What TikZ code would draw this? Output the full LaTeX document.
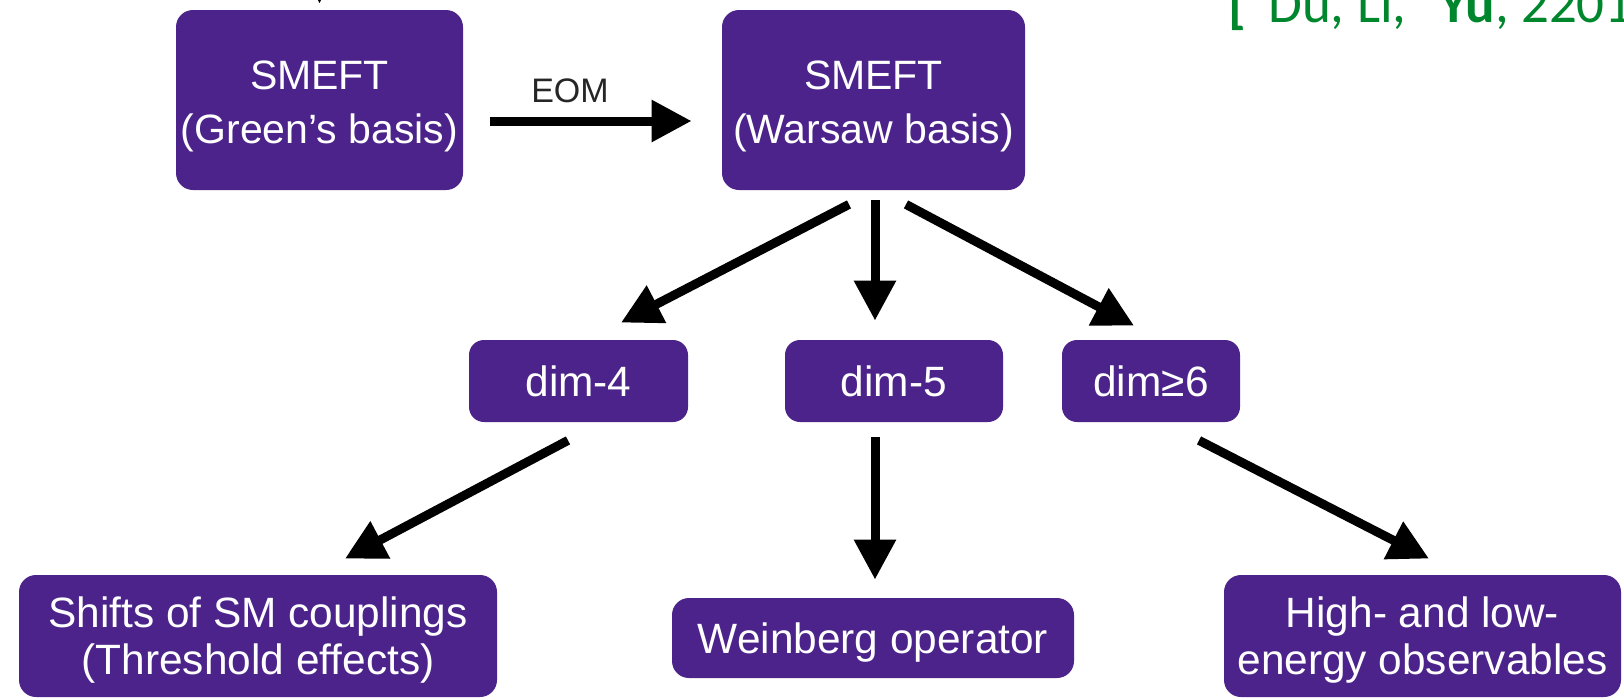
\documentclass[tikz,border=0pt]{standalone}
\usepackage{fontspec}
\setmainfont{Liberation Sans}
\newfontfamily\citefont{Carlito}
\usepackage{tikz}
\usetikzlibrary{arrows.meta}
\usetikzlibrary{calc}
\definecolor{smpurple}{RGB}{75,35,138}
\definecolor{citegreen}{RGB}{0,135,45}

\begin{document}
\begin{tikzpicture}[x=0.5pt,y=-0.5pt]
		\clip (0,0) rectangle (1624,697);

		\begin{scope}[every node/.style={rectangle,rounded corners=8.5pt,fill=smpurple,text=white,
		              align=center,inner sep=0pt,font=\fontsize{21.2}{23.5}\selectfont}]
			\node[minimum width=143.5pt,minimum height=90pt,font=\fontsize{20.5}{27}\selectfont] (green) at (319.5,100) {\rule{0pt}{21pt}SMEFT\\(Green's basis)};
			\node[minimum width=151.5pt,minimum height=90pt,font=\fontsize{20.5}{27}\selectfont] (warsaw) at (873.5,100) {\rule{0pt}{21pt}SMEFT\\(Warsaw basis)};
			\node[minimum width=109.5pt,minimum height=41pt,rounded corners=7.5pt] (dimfour) at (578.5,381) {dim-4};
			\node[minimum width=109pt,minimum height=41pt,rounded corners=7.5pt] (dimfive) at (894,381) {dim-5};
			\node[minimum width=89pt,minimum height=41pt,rounded corners=7.5pt] (dimsix) at (1151,381) {dim≥6};
			\node[minimum width=239pt,minimum height=61pt] (shifts) at (258,636) {\rule{0pt}{19.5pt}Shifts of SM couplings\\(Threshold effects)};
			\node[minimum width=201pt,minimum height=40pt] (weinberg) at (873,638) {\rule{0pt}{19.5pt}Weinberg operator};
			\node[minimum width=198.5pt,minimum height=61pt] (obs) at (1422.5,636) {\rule{0pt}{19.5pt}High- and low-\\energy observables};
		\end{scope}

		\node[text=black!85,font=\fontsize{17}{20}\selectfont] (eom) at (570,91) {EOM};
		\node[anchor=base west,inner sep=0pt,text=citegreen,font=\citefont\fontsize{27.5}{30}\selectfont] (cite) at (1228,22)
			{{\bfseries[}\hspace{11pt}Du, Li,\hspace{16.5pt}\textbf{Yu}, 2201};

		\begin{scope}[>={Triangle[length=20pt,width=20pt]},
		              every edge/.style={draw=black,line width=4.5pt,->}]
			\path ($(green.north)+(0,-60)$) edge ($(green.north)+(0,-6)$);
			\path ($(green.east)+(27,21)$) edge ($(warsaw.west)+(-30,21)$);
			\path ($(warsaw.south)+(-24.5,14)$) edge ($(dimfour.north)+(42.5,-17)$);
			\path ($(warsaw.south)+(1.5,10)$) edge ($(dimfive.north)+(-19,-19)$);
			\path ($(warsaw.south)+(32.5,14)$) edge ($(dimsix.north)+(-17,-14)$);
			\path ($(dimfour.south)+(-10.5,18)$) edge ($(shifts.north)+(87,-16)$);
			\path ($(dimfive.south)+(-19,15)$) edge ($(weinberg.north)+(2,-18)$);
			\path ($(dimsix.south)+(48,18)$) edge ($(obs.north)+(6.5,-16)$);
		\end{scope}
\end{tikzpicture}
\end{document}
